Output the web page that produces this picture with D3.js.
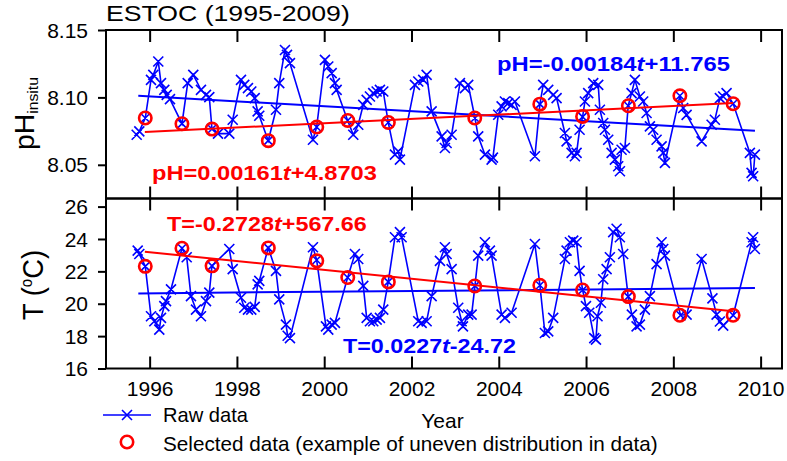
<!DOCTYPE html>
<html><head><meta charset="utf-8">
<script src="https://cdn.jsdelivr.net/npm/d3@7"></script>
<style>body{margin:0;background:#fff}svg{display:block}text{font-family:"Liberation Sans",Arial,sans-serif}</style>
</head><body><svg id="c" width="787" height="461"></svg>
<script>
// ---------- data ----------
const phTime=[1995.703,1995.763,1995.900,1996.031,1996.084,1996.198,1996.260,1996.336,1996.391,1996.466,
1996.741,1996.872,1997.000,1997.176,1997.291,1997.367,1997.428,1997.566,1997.825,1997.903,
1998.093,1998.168,1998.253,1998.329,1998.407,1998.475,1998.512,1998.718,1998.895,1998.970,
1999.101,1999.147,1999.215,1999.742,1999.827,2000.017,2000.093,2000.171,2000.246,2000.285,
2000.537,2000.666,2000.780,2000.895,2000.973,2001.048,2001.124,2001.202,2001.277,2001.353,
2001.467,2001.621,2001.697,2001.735,2002.079,2002.155,2002.269,2002.347,2002.462,2002.691,
2002.766,2002.805,2002.920,2003.110,2003.225,2003.300,2003.454,2003.529,2003.683,2003.836,
2003.866,2003.988,2004.065,2004.141,2004.217,2004.294,2004.370,2004.828,2004.943,2005.018,
2005.133,2005.247,2005.325,2005.515,2005.554,2005.669,2005.745,2005.783,2005.852,2005.921,
2005.974,2006.049,2006.164,2006.279,2006.317,2006.393,2006.432,2006.508,2006.586,2006.661,
2006.737,2006.776,2006.814,2006.890,2006.966,2007.043,2007.119,2007.234,2007.309,2007.387,
2007.463,2007.539,2007.616,2007.731,2007.768,2007.807,2008.150,2008.226,2008.304,2008.648,
2008.877,2008.952,2009.067,2009.142,2009.220,2009.371,2009.754,2009.793,2009.829,2009.868];
const phValue=[8.0723,8.0748,8.0847,8.1130,8.1167,8.1266,8.1106,8.1056,8.1019,8.0987,
8.0805,8.1106,8.1167,8.1056,8.1019,8.1002,8.0766,8.0731,8.0731,8.0834,
8.1130,8.1093,8.1069,8.1044,8.0995,8.0896,8.0864,8.0679,8.0908,8.1106,
8.1352,8.1315,8.1254,8.0686,8.0780,8.1278,8.1229,8.1180,8.1106,8.1056,
8.0829,8.0723,8.0797,8.0945,8.0982,8.1007,8.1032,8.1044,8.1056,8.1044,
8.0814,8.0575,8.0600,8.0538,8.1093,8.1118,8.1130,8.1167,8.0896,8.0711,
8.0625,8.0662,8.0723,8.1106,8.1069,8.1093,8.0847,8.0711,8.0575,8.0538,
8.0553,8.0871,8.0933,8.0970,8.0958,8.0945,8.0970,8.0563,8.0950,8.1093,
8.1056,8.1019,8.0995,8.0736,8.0674,8.0588,8.0563,8.0588,8.0760,8.0856,
8.0970,8.1032,8.1106,8.1093,8.0908,8.0810,8.0760,8.0686,8.0588,8.0538,
8.0489,8.0452,8.0612,8.0625,8.0938,8.1032,8.1130,8.1007,8.0970,8.0884,
8.0785,8.0760,8.0686,8.0637,8.0588,8.0514,8.1012,8.0921,8.0870,8.0674,
8.0797,8.0834,8.0995,8.1007,8.1032,8.0953,8.0588,8.0440,8.0415,8.0575];

const tTime=[1995.726,1995.763,1995.900,1996.031,1996.107,1996.221,1996.260,1996.336,1996.375,1996.489,
1996.741,1996.849,1996.947,1997.062,1997.176,1997.291,1997.367,1997.428,1997.825,1997.903,
1998.093,1998.168,1998.253,1998.329,1998.407,1998.475,1998.512,1998.718,1998.895,1998.970,
1999.124,1999.163,1999.215,1999.742,1999.827,2000.040,2000.093,2000.171,2000.246,2000.537,
2000.704,2000.780,2000.895,2000.973,2001.048,2001.124,2001.202,2001.277,2001.353,2001.467,
2001.621,2001.735,2001.774,2002.155,2002.233,2002.347,2002.462,2002.652,2002.766,2002.805,
2002.920,2003.071,2003.149,2003.179,2003.300,2003.378,2003.454,2003.529,2003.683,2003.797,
2003.836,2004.065,2004.141,2004.294,2004.828,2004.943,2005.057,2005.133,2005.247,2005.515,
2005.554,2005.630,2005.706,2005.783,2005.852,2005.921,2005.998,2006.073,2006.188,2006.227,
2006.263,2006.340,2006.393,2006.471,2006.546,2006.622,2006.700,2006.775,2006.851,2006.966,
2007.050,2007.158,2007.234,2007.348,2007.463,2007.616,2007.731,2007.768,2007.807,2008.166,
2008.304,2008.648,2008.896,2008.991,2009.067,2009.142,2009.371,2009.793,2009.829,2009.868];
const tValue=[23.28,23.07,22.31,19.23,18.92,18.40,19.13,19.85,20.16,20.89,
23.43,22.87,20.47,19.64,19.23,20.16,20.69,22.34,23.38,22.14,
20.37,19.75,19.64,19.64,19.81,21.20,21.41,23.45,22.03,20.27,
18.71,18.02,17.88,23.49,22.70,18.60,18.40,18.71,18.82,21.62,
23.07,22.76,21.10,19.13,18.92,18.92,19.02,19.13,19.64,21.35,
24.11,24.42,24.11,18.92,18.82,18.92,20.47,22.65,23.49,23.07,
22.14,19.75,18.92,18.60,19.33,19.33,21.10,22.97,23.80,23.28,
22.97,19.33,19.13,19.44,23.69,21.14,18.19,18.29,19.13,22.76,
23.28,23.80,23.90,23.80,22.03,20.85,19.85,19.44,17.88,17.78,
19.23,20.06,21.51,22.14,22.87,24.42,24.63,24.11,23.07,20.44,
19.33,18.60,18.71,19.64,20.47,22.45,23.80,23.38,22.97,19.29,
19.33,22.76,20.33,19.33,18.90,18.65,19.29,23.80,24.11,23.38];

const selTime=[1995.90,1996.74,1997.43,1998.72,1999.83,2000.54,2001.47,2003.45,2004.94,2005.92,2006.97,2008.15,2009.37];
const selPH=[8.0847,8.0805,8.0765,8.0679,8.0780,8.0829,8.0814,8.0847,8.0950,8.0859,8.0938,8.1012,8.0953];
const selT=[22.31,23.43,22.34,23.45,22.65,21.62,21.35,21.10,21.14,20.85,20.44,19.29,19.29];

// trend lines (end points)
const phRawFitTime=[1995.74,2009.87], phRawFitValue=[8.1012,8.0753];
const phSelFitTime=[1995.89,2009.37], phSelFitValue=[8.0743,8.0958];
const tRawFitTime=[1995.74,2009.87], tRawFitValue=[20.64,20.97];
const tSelFitTime=[1995.89,2009.37], tSelFitValue=[23.21,19.54];

const xTicks=[1996,1998,2000,2002,2004,2006,2008,2010];
const phTicks=[8.05,8.10,8.15];
const tTicks=[16,18,20,22,24,26];

const eqPHsel=["pH=0.00161","t","+4.8703"];
const eqPHraw=["pH=-0.00184","t","+11.765"];
const eqTsel=["T=-0.2728","t","+567.66"];
const eqTraw=["T=0.0227","t","-24.72"];

// ---------- drawing ----------
const svg=d3.select('#c');
const BLUE='#0000ff', RED='#ff0000';
const L=106,R=782,T1=30,B1=198.5,T2=198.5,B2=368.5;
const x=d3.scaleLinear().domain([1995,2010.49]).range([L,R]);
const yPH=d3.scaleLinear().domain([8.025,8.15]).range([B1,T1]);
const yT=d3.scaleLinear().domain([16,26.5]).range([B2,T2]);

function addText(parent,px,py,parts,o){
  const t=parent.append('text').attr('font-size',o.size).attr('fill',o.fill||'#000')
    .attr('font-weight',o.weight||'normal');
  parts.forEach(p=>{
    const ts=t.append('tspan').text(p.text);
    if(p.italic) ts.attr('font-style','italic');
    if(p.size) ts.attr('font-size',p.size);
    if(p.dy!=null) ts.attr('dy',p.dy);
  });
  const len=t.node().getComputedTextLength();
  const k=o.width?o.width/len:1;
  const shift=o.anchor==='middle'?-len*k/2:0;
  t.attr('transform',`translate(${px},${py}) rotate(${o.rotate||0}) translate(${shift},0) scale(${k},1)`);
  return t;
}
const eqParts=a=>[{text:a[0]},{text:a[1],italic:true},{text:a[2]}];

function panel(y,tArr,vArr,sT,sV,rawFT,rawFV,selFT,selFV,ticks,fmt,top,bot,labels){
  const g=svg.append('g');
  const line=d3.line().x(d=>x(d[0])).y(d=>y(d[1]));
  const pts=tArr.map((t,i)=>[t,vArr[i]]);
  g.append('path').attr('d',line(pts)).attr('fill','none').attr('stroke',BLUE).attr('stroke-width',1.6);
  const s=5;
  g.append('path').attr('d',pts.map(p=>{const cx=x(p[0]),cy=y(p[1]);
      return `M${cx-s},${cy-s}L${cx+s},${cy+s}M${cx-s},${cy+s}L${cx+s},${cy-s}`;}).join(''))
    .attr('fill','none').attr('stroke',BLUE).attr('stroke-width',1.6);
  g.append('path').attr('d',line(rawFT.map((t,i)=>[t,rawFV[i]]))).attr('stroke',BLUE).attr('stroke-width',2).attr('fill','none');
  g.append('path').attr('d',line(selFT.map((t,i)=>[t,selFV[i]]))).attr('stroke',RED).attr('stroke-width',2).attr('fill','none');
  g.selectAll(null).data(sT.map((t,i)=>[t,sV[i]])).enter().append('circle')
    .attr('cx',d=>x(d[0])).attr('cy',d=>y(d[1])).attr('r',6.2)
    .attr('fill','none').attr('stroke',RED).attr('stroke-width',2.6);
  const ax=g.append('g').attr('transform',`translate(${L},0)`)
    .call(d3.axisLeft(y).tickValues(ticks).tickSize(8).tickSizeOuter(0).tickPadding(10).tickFormat(fmt));
  ax.select('.domain').remove();
  ax.selectAll('line').attr('stroke','#000').attr('stroke-width',2);
  ax.selectAll('text').attr('font-size',21).attr('fill','#000').attr('font-family','"Liberation Sans",Arial,sans-serif').attr('dy','0.34em');
  const bx=g.append('g').attr('transform',`translate(0,${bot})`)
    .call(d3.axisBottom(x).tickValues(xTicks).tickSize(-12).tickSizeOuter(0).tickPadding(13)
      .tickFormat(labels?d3.format('d'):()=>''));
  bx.select('.domain').remove();
  bx.selectAll('line').attr('stroke','#000').attr('stroke-width',2);
  bx.selectAll('text').attr('font-size',21).attr('fill','#000').attr('font-family','"Liberation Sans",Arial,sans-serif');
  const tx=g.append('g').attr('transform',`translate(0,${top})`)
    .call(d3.axisTop(x).tickValues(xTicks).tickSize(-12).tickSizeOuter(0).tickFormat(()=>''));
  tx.select('.domain').remove();
  tx.selectAll('line').attr('stroke','#000').attr('stroke-width',2);
  g.append('rect').attr('x',L).attr('y',top).attr('width',R-L).attr('height',bot-top)
    .attr('fill','none').attr('stroke','#000').attr('stroke-width',2);
  return g;
}

panel(yPH,phTime,phValue,selTime,selPH,phRawFitTime,phRawFitValue,phSelFitTime,phSelFitValue,
  phTicks,d3.format('.2f'),T1,B1,false);
panel(yT,tTime,tValue,selTime,selT,tRawFitTime,tRawFitValue,tSelFitTime,tSelFitValue,
  tTicks,d3.format('d'),T2,B2,true);

addText(svg,152,180,eqParts(eqPHsel),{size:21,weight:'bold',fill:RED,width:225});
addText(svg,497,71,eqParts(eqPHraw),{size:21,weight:'bold',fill:BLUE,width:233});
addText(svg,167,231,eqParts(eqTsel),{size:21,weight:'bold',fill:RED,width:200});
addText(svg,343,353,eqParts(eqTraw),{size:21,weight:'bold',fill:BLUE,width:173});

addText(svg,106,21,[{text:'ESTOC (1995-2009)'}],{size:22,width:244});

addText(svg,33.5,113.5,[{text:'pH'},{text:'insitu',size:15,dy:4}],{size:27,rotate:-90,anchor:'middle',width:73});
addText(svg,43,285,[{text:'T ('},{text:'o',size:16,dy:-11},{text:'C)',dy:11}],{size:29,rotate:-90,anchor:'middle',width:70});

addText(svg,442.5,428,[{text:'Year'}],{size:21,anchor:'middle'});

const lg=svg.append('g');
lg.append('line').attr('x1',103).attr('x2',151).attr('y1',415).attr('y2',415).attr('stroke',BLUE).attr('stroke-width',1.6);
lg.append('path').attr('d','M122,410L132,420M122,420L132,410').attr('stroke',BLUE).attr('stroke-width',1.6);
addText(lg,163,422,[{text:'Raw data'}],{size:20,width:85});
lg.append('circle').attr('cx',127).attr('cy',442).attr('r',6.2).attr('fill','none').attr('stroke',RED).attr('stroke-width',2.6);
addText(lg,163,450.5,[{text:'Selected data (example of uneven distribution in data)'}],{size:20,width:495});
</script></body></html>
